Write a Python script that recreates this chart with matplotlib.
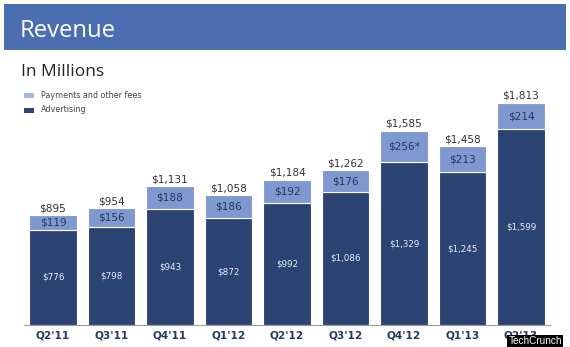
import matplotlib
matplotlib.use("Agg")
from matplotlib import pyplot as plt
from matplotlib.patches import Rectangle

# Data (USD millions)
quarters = ["Q2'11", "Q3'11", "Q4'11", "Q1'12", "Q2'12", "Q3'12", "Q4'12", "Q1'13", "Q2'13"]
advertising = [776, 798, 943, 872, 992, 1086, 1329, 1245, 1599]
payments = [119, 156, 188, 186, 192, 176, 256, 213, 214]
totals = [895, 954, 1131, 1058, 1184, 1262, 1585, 1458, 1813]

DARK = "#2c4474"
LIGHT = "#7f99d0"
HEADER = "#4b6db1"
NAVY_TXT = "#23395f"

W, H = 570, 347
fig = plt.figure(figsize=(W / 100, H / 100), dpi=100)
fig.patch.set_facecolor("white")

def px(x, y):
    # pixel coords (top-left origin) -> figure fraction
    return x / W, 1 - y / H

# Header band
fig.patches.append(Rectangle(px(4, 50), 562 / W, 46 / H, transform=fig.transFigure,
                             facecolor=HEADER, edgecolor="none", zorder=0))
fig.text(*px(20, 31), "Revenue", color="white", fontsize=17.2, family="Open Sans", va="center")
fig.text(*px(21, 72), "In Millions", color="#222222", fontsize=12.5, family="Open Sans", va="center")

# Legend
fig.patches.append(Rectangle(px(24, 98), 10 / W, 5 / H, transform=fig.transFigure,
                             facecolor="#a9b9dc", edgecolor="none"))
fig.patches.append(Rectangle(px(24, 113), 10 / W, 5 / H, transform=fig.transFigure,
                             facecolor=DARK, edgecolor="none"))
fig.text(*px(41, 95.5), "Payments and other fees", color="#444444", fontsize=5.8, family="DejaVu Sans", va="center")
fig.text(*px(41, 110), "Advertising", color="#444444", fontsize=5.8, family="DejaVu Sans", va="center")

# Axes: baseline at y=325 px, scale ~0.1225 px per $M
left, right = 23.75, 550.25
top, bottom = 90, 325
ax = fig.add_axes([left / W, 1 - bottom / H, (right - left) / W, (bottom - top) / H])
ax.set_xlim(-0.5, 8.5)
ax.set_ylim(0, (bottom - top) / 0.1225)

x = range(len(quarters))
ax.bar(x, advertising, width=0.82, color=DARK, edgecolor="white", linewidth=0.8)
ax.bar(x, payments, bottom=advertising, width=0.82, color=LIGHT, edgecolor="white", linewidth=0.8)

for i in x:
    ax.text(i, advertising[i] / 2, f"${advertising[i]:,}", ha="center", va="center",
            color="#e8ecf5", fontsize=6.3, family="DejaVu Sans")
    lbl = f"${payments[i]:,}" + ("*" if quarters[i] == "Q4'12" else "")
    ax.text(i, advertising[i] + payments[i] / 2, lbl, ha="center", va="center",
            color=NAVY_TXT, fontsize=7.6, family="DejaVu Sans")
    ax.annotate(f"${totals[i]:,}", (i, totals[i]), xytext=(0, 1.5), textcoords="offset points",
                ha="center", va="bottom", color="#333333", fontsize=7.6, family="DejaVu Sans")

for s in ["top", "right", "left"]:
    ax.spines[s].set_visible(False)
ax.spines["bottom"].set_color("#9a9a9a")
ax.spines["bottom"].set_linewidth(0.8)
ax.set_yticks([])
ax.set_xticks(list(x))
ax.set_xticklabels(quarters, fontsize=7.6, fontweight="bold", color=NAVY_TXT, family="DejaVu Sans")
ax.tick_params(axis="x", length=0, pad=4)
ax.patch.set_alpha(0)

# Watermark (covers the last tick label partly, as in the source image)
fig.text(*px(535, 341), "TechCrunch", color="white", fontsize=7.2, family="Liberation Sans",
         ha="center", va="center", zorder=10,
         bbox=dict(boxstyle="square,pad=0.15", facecolor="black", edgecolor="none"))

fig.savefig("out.png", dpi=100)
